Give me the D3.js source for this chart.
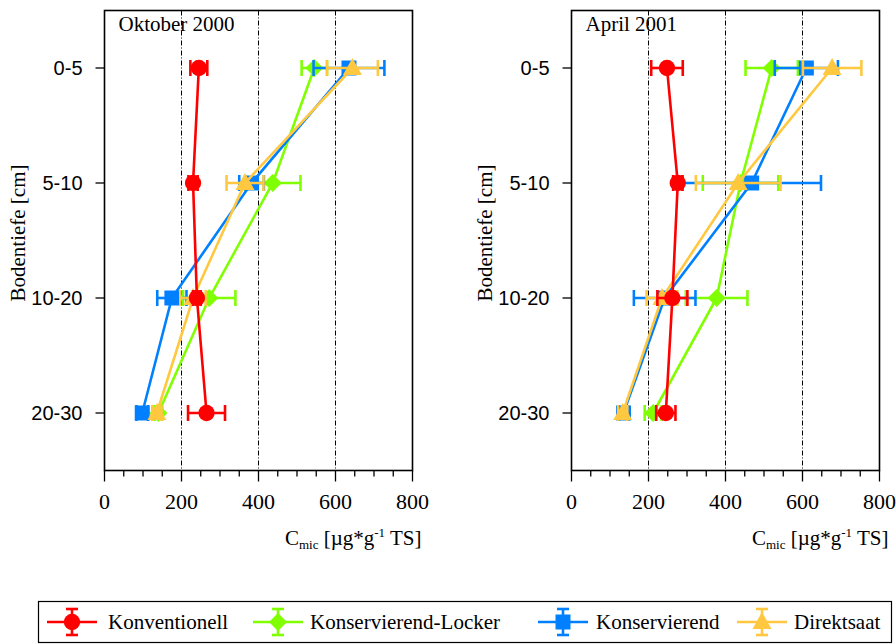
<!DOCTYPE html>
<html>
<head>
<meta charset="utf-8">
<script src="https://cdn.jsdelivr.net/npm/d3@7"></script>
<style>
  html, body { margin: 0; padding: 0; background: #fff; }
  svg { display: block; }
</style>
</head>
<body>
<svg id="chart" width="896" height="644"></svg>
<script>
// Soil depth classes (rows) and axis ticks
const depths = ["0-5", "5-10", "10-20", "20-30"];
const xTicks = [0, 200, 400, 600, 800];

// Series (tillage systems)
const seriesNames = ["Konventionell", "Konservierend-Locker", "Konservierend", "Direktsaat"];
const seriesColors = ["#ff0000", "#80ff00", "#0080ff", "#ffc840"];
const seriesShapes = ["circle", "diamond", "square", "triangle"];

// Oktober 2000: Cmic means and standard errors per depth
const oktKonv = [245, 230, 240, 265];
const oktKonvErr = [22, 12, 10, 48];
const oktLocker = [545, 437, 272, 140];
const oktLockerErr = [33, 72, 68, 10];
const oktKons = [635, 382, 175, 98];
const oktKonsErr = [92, 32, 38, 15];
const oktDirekt = [644, 365, 230, 136];
const oktDirektErr = [66, 48, 33, 12];

// April 2001
const aprKonv = [248, 276, 262, 245];
const aprKonvErr = [41, 12, 39, 25];
const aprLocker = [520, 439, 377, 212];
const aprLockerErr = [68, 98, 80, 22];
const aprKons = [610, 468, 242, 135];
const aprKonsErr = [82, 180, 80, 12];
const aprDirekt = [677, 433, 235, 133];
const aprDirektErr = [76, 110, 40, 12];

const panels = [
  { title: "Oktober 2000", x0: 104.5, values: [oktKonv, oktLocker, oktKons, oktDirekt], errors: [oktKonvErr, oktLockerErr, oktKonsErr, oktDirektErr] },
  { title: "April 2001", x0: 571.5, values: [aprKonv, aprLocker, aprKons, aprDirekt], errors: [aprKonvErr, aprLockerErr, aprKonsErr, aprDirektErr] }
];

const svg = d3.select("#chart");
const serif = "'Liberation Serif', 'Times New Roman', serif";
const sans = "'Liberation Sans', Arial, sans-serif";

const plotW = 308, plotTop = 10.5, plotBottom = 470.5;
const lineW = 2.6;
// draw order: bottom to top
const drawOrder = [1, 2, 3, 0];

function symbolPath(shape) {
  switch (shape) {
    case "circle": return d3.symbol(d3.symbolCircle, 210)();
    case "diamond": return "M0,-9L9,0L0,9L-9,0Z";
    case "square": return "M-7.5,-7.5H7.5V7.5H-7.5Z";
    case "triangle": return "M0,-10L9.5,7L-9.5,7Z";
  }
}

panels.forEach(p => {
  const x = d3.scaleLinear().domain([0, 800]).range([p.x0, p.x0 + plotW]);
  const y = d3.scaleLinear().domain([-0.5, 3.5]).range([plotTop, plotBottom]);
  const g = svg.append("g");

  // vertical grid lines
  g.selectAll(".grid").data([200, 400, 600]).join("line")
    .attr("x1", d => x(d)).attr("x2", d => x(d))
    .attr("y1", plotTop).attr("y2", plotBottom)
    .attr("stroke", "#000").attr("stroke-width", 1)
    .attr("stroke-dasharray", "5,2,1,2");

  // frame
  g.append("rect")
    .attr("x", p.x0).attr("y", plotTop).attr("width", plotW).attr("height", plotBottom - plotTop)
    .attr("fill", "none").attr("stroke", "#000").attr("stroke-width", 1.6);

  // x axis ticks (minor every 50)
  const minor = d3.range(0, 801, 50);
  g.selectAll(".xt").data(minor).join("line")
    .attr("x1", d => x(d)).attr("x2", d => x(d))
    .attr("y1", plotBottom).attr("y2", d => d % 200 === 0 ? plotBottom + 11 : plotBottom + 6)
    .attr("stroke", "#000").attr("stroke-width", 1.3);
  g.selectAll(".xl").data(xTicks).join("text")
    .attr("x", d => x(d)).attr("y", 509)
    .attr("text-anchor", "middle")
    .attr("font-family", serif).attr("font-size", 22)
    .text(d => d);

  // y axis ticks and labels
  g.selectAll(".yt").data(depths).join("line")
    .attr("x1", p.x0 - 9).attr("x2", p.x0)
    .attr("y1", (d, i) => y(i)).attr("y2", (d, i) => y(i))
    .attr("stroke", "#000").attr("stroke-width", 1.3);
  g.selectAll(".yl").data(depths).join("text")
    .attr("x", p.x0 - 22).attr("y", (d, i) => y(i) + 7)
    .attr("text-anchor", "end")
    .attr("font-family", sans).attr("font-size", 20)
    .text(d => d);

  // y axis title
  g.append("text")
    .attr("transform", `translate(${p.x0 - 80},233) rotate(-90)`)
    .attr("text-anchor", "middle")
    .attr("font-family", serif).attr("font-size", 21)
    .text("Bodentiefe [cm]");

  // x axis title
  const xt = g.append("text")
    .attr("x", p.x0 + plotW + 9).attr("y", 545)
    .attr("text-anchor", "end")
    .attr("font-family", serif).attr("font-size", 21);
  xt.append("tspan").text("C");
  xt.append("tspan").attr("font-size", 13).attr("dy", 4).text("mic");
  xt.append("tspan").attr("dy", -4).text(" [µg*g");
  xt.append("tspan").attr("font-size", 13).attr("dy", -8).text("-1");
  xt.append("tspan").attr("dy", 8).text(" TS]");

  // panel title
  g.append("text")
    .attr("x", p.x0 + 14).attr("y", 31)
    .attr("font-family", serif).attr("font-size", 21)
    .text(p.title);

  // series
  drawOrder.forEach(si => {
    const vals = p.values[si], errs = p.errors[si], col = seriesColors[si];
    const sg = g.append("g");
    const pts = vals.map((v, i) => ({ v, e: errs[i], i }));
    sg.append("path")
      .datum(pts)
      .attr("fill", "none").attr("stroke", col).attr("stroke-width", lineW)
      .attr("d", d3.line().x(d => x(d.v)).y(d => y(d.i)));
    // error bars
    pts.forEach(d => {
      const yy = y(d.i);
      sg.append("line").attr("x1", x(d.v - d.e)).attr("x2", x(d.v + d.e))
        .attr("y1", yy).attr("y2", yy).attr("stroke", col).attr("stroke-width", lineW);
      [d.v - d.e, d.v + d.e].forEach(ev => {
        sg.append("line").attr("x1", x(ev)).attr("x2", x(ev))
          .attr("y1", yy - 8).attr("y2", yy + 8).attr("stroke", col).attr("stroke-width", lineW);
      });
    });
    sg.selectAll(".m").data(pts).join("path")
      .attr("transform", d => `translate(${x(d.v)},${y(d.i)})`)
      .attr("d", symbolPath(seriesShapes[si]))
      .attr("fill", col);
  });
});

// legend
const lg = svg.append("g");
lg.append("rect").attr("x", 38.5).attr("y", 601.5).attr("width", 853).attr("height", 41)
  .attr("fill", "none").attr("stroke", "#000").attr("stroke-width", 1.2);
const legendX = [72, 278, 563, 762];
const legendTextX = [108, 310, 596, 794];
seriesNames.forEach((name, si) => {
  const cx = legendX[si], cy = 622, col = seriesColors[si];
  lg.append("line").attr("x1", cx - 25).attr("x2", cx + 25).attr("y1", cy).attr("y2", cy)
    .attr("stroke", col).attr("stroke-width", lineW);
  lg.append("line").attr("x1", cx).attr("x2", cx).attr("y1", cy - 13).attr("y2", cy + 13)
    .attr("stroke", col).attr("stroke-width", lineW);
  [cy - 13, cy + 13].forEach(yy => lg.append("line")
    .attr("x1", cx - 6).attr("x2", cx + 6).attr("y1", yy).attr("y2", yy)
    .attr("stroke", col).attr("stroke-width", lineW));
  lg.append("path").attr("transform", `translate(${cx},${cy})`)
    .attr("d", symbolPath(seriesShapes[si])).attr("fill", col);
  lg.append("text").attr("x", legendTextX[si]).attr("y", cy + 7)
    .attr("font-family", serif).attr("font-size", 21)
    .text(name);
});
</script>
</body>
</html>
